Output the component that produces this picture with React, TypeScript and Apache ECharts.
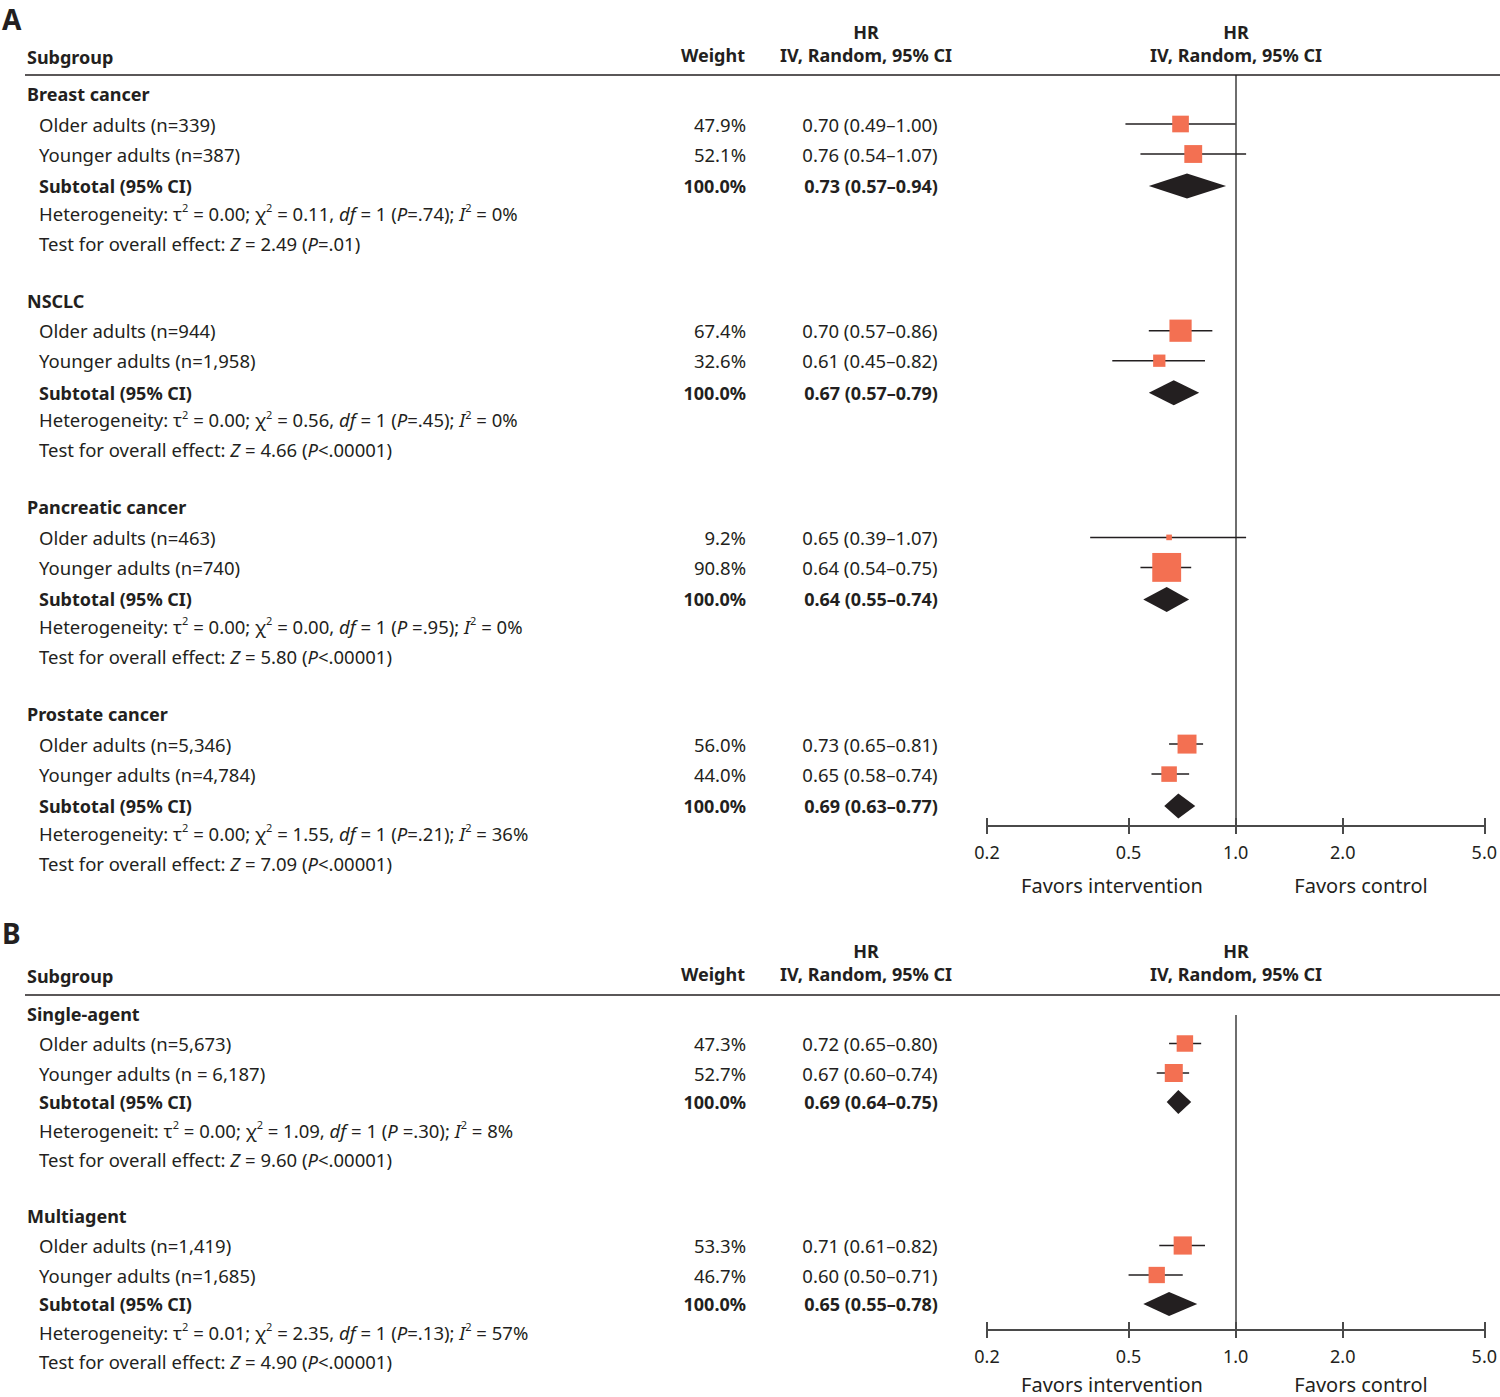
import React, { useEffect, useRef } from 'react';
import * as echarts from 'echarts';

// ---------------- Data ----------------
const TICK_VALUES = [0.2, 0.5, 1.0, 2.0, 5.0];
const AXIS_MIN = 0.2;
const AXIS_MAX = 5.0;

// Panel A – cancer type
const A_GROUPS = ['Breast cancer', 'NSCLC', 'Pancreatic cancer', 'Prostate cancer'];
const A_LABELS = [
  ['Older adults (n=339)', 'Younger adults (n=387)'],
  ['Older adults (n=944)', 'Younger adults (n=1,958)'],
  ['Older adults (n=463)', 'Younger adults (n=740)'],
  ['Older adults (n=5,346)', 'Younger adults (n=4,784)'],
];
const A_WEIGHTS = [[47.9, 52.1], [67.4, 32.6], [9.2, 90.8], [56.0, 44.0]];
const A_HR = [[0.70, 0.76], [0.70, 0.61], [0.65, 0.64], [0.73, 0.65]];
const A_LO = [[0.49, 0.54], [0.57, 0.45], [0.39, 0.54], [0.65, 0.58]];
const A_HI = [[1.00, 1.07], [0.86, 0.82], [1.07, 0.75], [0.81, 0.74]];
const A_SUB_HR = [0.73, 0.67, 0.64, 0.69];
const A_SUB_LO = [0.57, 0.57, 0.55, 0.63];
const A_SUB_HI = [0.94, 0.79, 0.74, 0.77];
const A_HET = [
  'Heterogeneity: τ{s|2} = 0.00; χ{s|2} = 0.11, {i|df} = 1 ({i|P}=.74); {i|I}{s|2} = 0%',
  'Heterogeneity: τ{s|2} = 0.00; χ{s|2} = 0.56, {i|df} = 1 ({i|P}=.45); {i|I}{s|2} = 0%',
  'Heterogeneity: τ{s|2} = 0.00; χ{s|2} = 0.00, {i|df} = 1 ({i|P} =.95); {i|I}{s|2} = 0%',
  'Heterogeneity: τ{s|2} = 0.00; χ{s|2} = 1.55, {i|df} = 1 ({i|P}=.21); {i|I}{s|2} = 36%',
];
const A_TEST = [
  'Test for overall effect: {i|Z} = 2.49 ({i|P}=.01)',
  'Test for overall effect: {i|Z} = 4.66 ({i|P}<.00001)',
  'Test for overall effect: {i|Z} = 5.80 ({i|P}<.00001)',
  'Test for overall effect: {i|Z} = 7.09 ({i|P}<.00001)',
];

// Panel B – regimen
const B_GROUPS = ['Single-agent', 'Multiagent'];
const B_LABELS = [
  ['Older adults (n=5,673)', 'Younger adults (n = 6,187)'],
  ['Older adults (n=1,419)', 'Younger adults (n=1,685)'],
];
const B_WEIGHTS = [[47.3, 52.7], [53.3, 46.7]];
const B_HR = [[0.72, 0.67], [0.71, 0.60]];
const B_LO = [[0.65, 0.60], [0.61, 0.50]];
const B_HI = [[0.80, 0.74], [0.82, 0.71]];
const B_SUB_HR = [0.69, 0.65];
const B_SUB_LO = [0.64, 0.55];
const B_SUB_HI = [0.75, 0.78];
const B_HET = [
  'Heterogeneit: τ{s|2} = 0.00; χ{s|2} = 1.09, {i|df} = 1 ({i|P} =.30); {i|I}{s|2} = 8%',
  'Heterogeneity: τ{s|2} = 0.01; χ{s|2} = 2.35, {i|df} = 1 ({i|P}=.13); {i|I}{s|2} = 57%',
];
const B_TEST = [
  'Test for overall effect: {i|Z} = 9.60 ({i|P}<.00001)',
  'Test for overall effect: {i|Z} = 4.90 ({i|P}<.00001)',
];

// ---------------- Styling / layout ----------------
const FONT = '"Noto Sans", "Open Sans", sans-serif';
const INK = '#231f20';
const SQUARE = '#f37052';
const AXIS_GREY = '#4a4a4a';
const FS = 18.5;
const FS_BOLD = 18;

const L = (v: number) => Math.log10(v);

const RICH: any = {
  i: { fontStyle: 'italic', fontSize: FS, fontFamily: FONT, fill: INK, color: INK, lineHeight: 22 },
  s: { fontSize: 11, fontFamily: FONT, fill: INK, color: INK, verticalAlign: 'top', align: 'left', lineHeight: 12 },
};

function txt(x: number, y: number, text: string, o: any = {}) {
  const align = o.align || 'left';
  return {
    type: 'text',
    x,
    y,
    silent: true,
    z: 10,
    style: {
      text,
      fontSize: o.size || (o.bold ? FS_BOLD : FS),
      fontFamily: FONT,
      fontWeight: o.bold ? 'bold' : 'normal',
      fill: INK,
      textAlign: align,
      align,
      textVerticalAlign: 'middle',
      verticalAlign: 'middle',
      lineHeight: o.lineHeight || 22,
      rich: RICH,
    },
  };
}

const fmtCI = (hr: number, lo: number, hi: number) =>
  `${hr.toFixed(2)} (${lo.toFixed(2)}–${hi.toFixed(2)})`;

interface PanelCfg {
  letter: string;
  letterY: number;
  headY: number;
  lineY: number;
  gridTop: number;
  gridBottom: number;
  groupStart: number;
  groupStep: number;
  offsets: number[];
  favorsY: number;
  groups: string[];
  labels: string[][];
  weights: number[][];
  hr: number[][];
  lo: number[][];
  hi: number[][];
  subHr: number[];
  subLo: number[];
  subHi: number[];
  het: string[];
  test: string[];
  diamondH: number;
}

const PANELS: PanelCfg[] = [
  {
    letter: 'A', letterY: 19, headY: 56, lineY: 75, gridTop: 75, gridBottom: 826,
    groupStart: 94, groupStep: 206.7, offsets: [0, 30, 60, 92, 119, 149], favorsY: 885,
    groups: A_GROUPS, labels: A_LABELS, weights: A_WEIGHTS, hr: A_HR, lo: A_LO, hi: A_HI,
    subHr: A_SUB_HR, subLo: A_SUB_LO, subHi: A_SUB_HI, het: A_HET, test: A_TEST, diamondH: 12.5,
  },
  {
    letter: 'B', letterY: 933, headY: 975, lineY: 995, gridTop: 1015, gridBottom: 1330,
    groupStart: 1014, groupStep: 202, offsets: [0, 29.5, 59, 88, 116, 145], favorsY: 1384,
    groups: B_GROUPS, labels: B_LABELS, weights: B_WEIGHTS, hr: B_HR, lo: B_LO, hi: B_HI,
    subHr: B_SUB_HR, subLo: B_SUB_LO, subHi: B_SUB_HI, het: B_HET, test: B_TEST, diamondH: 12,
  },
];

const GRID_LEFT = 987;
const GRID_WIDTH = 499;
const COL_GROUP = 27;
const COL_ROW = 39;
const COL_WEIGHT = 746;
const COL_HR = 870;

function buildOption() {
  const grids: any[] = [];
  const xAxes: any[] = [];
  const yAxes: any[] = [];
  const series: any[] = [];
  const graphics: any[] = [];
  const tickPos = TICK_VALUES.map(L);

  PANELS.forEach((p, pi) => {
    grids.push({ left: GRID_LEFT, width: GRID_WIDTH, top: p.gridTop, height: p.gridBottom - p.gridTop });
    const common = { type: 'value', gridIndex: pi, min: L(AXIS_MIN), max: L(AXIS_MAX), position: 'bottom', splitLine: { show: false } };
    xAxes.push({
      ...common,
      axisLine: { show: true, onZero: false, lineStyle: { color: AXIS_GREY, width: 2 } },
      axisTick: { show: true, length: 8, customValues: tickPos, lineStyle: { color: AXIS_GREY, width: 2 } },
      axisLabel: {
        show: true, customValues: tickPos, margin: 17, fontSize: 18, fontFamily: FONT, color: INK,
        formatter: (v: number) => Math.pow(10, v).toFixed(1),
      },
    });
    xAxes.push({
      ...common,
      axisLine: { show: false },
      axisTick: { show: true, inside: true, length: 8, customValues: tickPos, lineStyle: { color: AXIS_GREY, width: 2 } },
      axisLabel: { show: false },
    });
    yAxes.push({ type: 'value', gridIndex: pi, min: p.gridTop, max: p.gridBottom, inverse: true, show: false });

    const xi = pi * 2;
    const whiskers: any[] = [];
    const squares: any[] = [];
    const diamonds: any[] = [];

    // headers
    graphics.push(txt(2, p.letterY, p.letter, { bold: true, size: 28, lineHeight: 30 }));
    graphics.push(txt(COL_GROUP, p.headY + 1, 'Subgroup', { bold: true }));
    graphics.push(txt(745, p.headY - 1, 'Weight', { bold: true, align: 'right' }));
    graphics.push(txt(866, p.headY - 24, 'HR', { bold: true, align: 'center' }));
    graphics.push(txt(866, p.headY - 1, 'IV, Random, 95% CI', { bold: true, align: 'center' }));
    graphics.push(txt(1236, p.headY - 24, 'HR', { bold: true, align: 'center' }));
    graphics.push(txt(1236, p.headY - 1, 'IV, Random, 95% CI', { bold: true, align: 'center' }));
    graphics.push({
      type: 'line', silent: true, z: 10,
      shape: { x1: 25, y1: p.lineY, x2: 1500, y2: p.lineY },
      style: { stroke: INK, lineWidth: 1.6 },
    });
    graphics.push(txt(1112, p.favorsY, 'Favors intervention', { size: 20, align: 'center' }));
    graphics.push(txt(1361, p.favorsY, 'Favors control', { size: 20, align: 'center' }));

    p.groups.forEach((g, gi) => {
      const y0 = p.groupStart + gi * p.groupStep;
      const ys = p.offsets.map((o) => y0 + o);
      graphics.push(txt(COL_GROUP, ys[0], g, { bold: true }));
      for (let k = 0; k < 2; k++) {
        const y = ys[1 + k];
        graphics.push(txt(COL_ROW, y, p.labels[gi][k]));
        graphics.push(txt(COL_WEIGHT, y, `${p.weights[gi][k].toFixed(1)}%`, { align: 'right' }));
        graphics.push(txt(COL_HR, y, fmtCI(p.hr[gi][k], p.lo[gi][k], p.hi[gi][k]), { align: 'center' }));
        whiskers.push([L(p.lo[gi][k]), L(p.hi[gi][k]), y]);
        squares.push([L(p.hr[gi][k]), y, p.weights[gi][k]]);
      }
      const ySub = ys[3];
      graphics.push(txt(COL_ROW, ySub, 'Subtotal (95% CI)', { bold: true }));
      graphics.push(txt(COL_WEIGHT, ySub, '100.0%', { bold: true, align: 'right' }));
      graphics.push(txt(COL_HR + 1, ySub, fmtCI(p.subHr[gi], p.subLo[gi], p.subHi[gi]), { bold: true, align: 'center' }));
      diamonds.push([L(p.subLo[gi]), L(p.subHr[gi]), L(p.subHi[gi]), ySub]);
      graphics.push(txt(COL_ROW, ys[4], p.het[gi]));
      graphics.push(txt(COL_ROW, ys[5], p.test[gi]));
    });

    series.push({
      type: 'custom',
      xAxisIndex: xi,
      yAxisIndex: pi,
      silent: true,
      z: 2,
      data: whiskers,
      encode: { x: [0, 1], y: 2 },
      renderItem: (_params: any, api: any) => {
        const a = api.coord([api.value(0), api.value(2)]);
        const b = api.coord([api.value(1), api.value(2)]);
        return {
          type: 'line',
          shape: { x1: a[0], y1: a[1], x2: b[0], y2: b[1] },
          style: { stroke: INK, lineWidth: 1.5 },
        };
      },
    });
    series.push({
      type: 'scatter',
      xAxisIndex: xi,
      yAxisIndex: pi,
      silent: true,
      z: 3,
      symbol: 'rect',
      symbolSize: (val: number[]) => 3 + 0.285 * val[2],
      itemStyle: { color: SQUARE, opacity: 1 },
      data: squares,
      markLine: {
        silent: true,
        symbol: ['none', 'none'],
        label: { show: false },
        lineStyle: { color: AXIS_GREY, width: 1.6, type: 'solid' },
        data: [{ xAxis: 0 }],
        z: 1,
      },
    });
    const dh = p.diamondH;
    series.push({
      type: 'custom',
      xAxisIndex: xi,
      yAxisIndex: pi,
      silent: true,
      z: 3,
      data: diamonds,
      encode: { x: [0, 1, 2], y: 3 },
      renderItem: (_params: any, api: any) => {
        const y = api.value(3);
        const l = api.coord([api.value(0), y]);
        const c = api.coord([api.value(1), y]);
        const r = api.coord([api.value(2), y]);
        return {
          type: 'polygon',
          shape: { points: [[l[0], l[1]], [c[0], c[1] - dh], [r[0], r[1]], [c[0], c[1] + dh]] },
          style: { fill: INK },
        };
      },
    });
  });

  return {
    animation: false,
    backgroundColor: '#ffffff',
    grid: grids,
    xAxis: xAxes,
    yAxis: yAxes,
    series,
    graphic: { elements: graphics },
  };
}

export default function App() {
  const ref = useRef<HTMLDivElement>(null);
  useEffect(() => {
    if (!ref.current) return;
    const chart = echarts.init(ref.current, null, { renderer: 'svg' });
    chart.setOption(buildOption() as any);
    return () => chart.dispose();
  }, []);
  return (
    <div
      ref={ref}
      style={{ position: 'absolute', left: 0, top: 0, width: 1500, height: 1397, background: '#fff' }}
    />
  );
}
